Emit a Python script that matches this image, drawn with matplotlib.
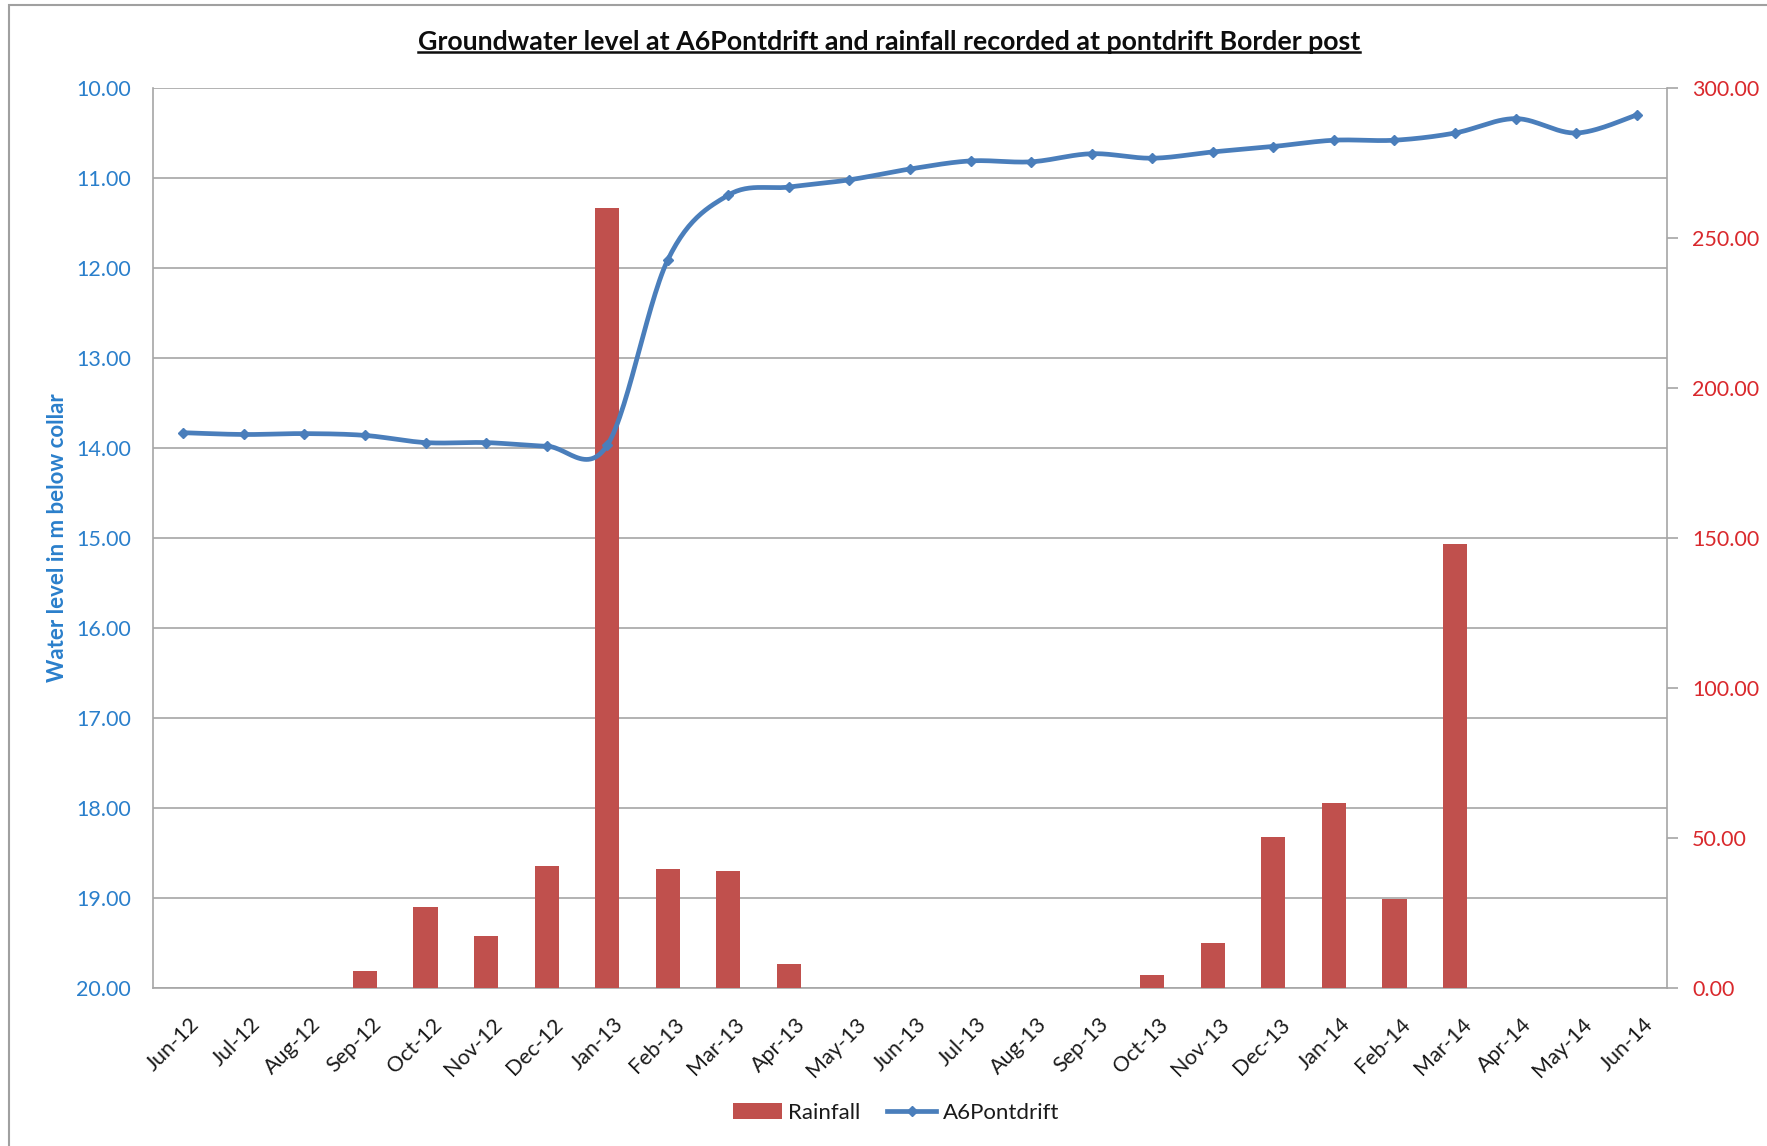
import numpy as np
import matplotlib
matplotlib.use("Agg")
import matplotlib.pyplot as plt
from matplotlib.lines import Line2D
from matplotlib.patches import Rectangle
from matplotlib.transforms import ScaledTranslation

plt.rcParams['font.family'] = ['Lato', 'DejaVu Sans']

months = ['Jun-12', 'Jul-12', 'Aug-12', 'Sep-12', 'Oct-12', 'Nov-12', 'Dec-12',
          'Jan-13', 'Feb-13', 'Mar-13', 'Apr-13', 'May-13', 'Jun-13', 'Jul-13',
          'Aug-13', 'Sep-13', 'Oct-13', 'Nov-13', 'Dec-13', 'Jan-14', 'Feb-14',
          'Mar-14', 'Apr-14', 'May-14', 'Jun-14']

# water level in m below collar
level = [13.83, 13.85, 13.84, 13.86, 13.94, 13.94, 13.98, 13.97, 11.91, 11.19,
         11.10, 11.02, 10.90, 10.81, 10.82, 10.73, 10.78, 10.71, 10.65, 10.58,
         10.58, 10.50, 10.34, 10.50, 10.30]

# monthly rainfall (mm)
rain = [0, 0, 0, 5.6, 27.0, 17.3, 40.6, 260.0, 39.8, 39.0, 7.9, 0, 0, 0, 0, 0,
        4.3, 14.9, 50.2, 61.8, 29.6, 148.0, 0, 0, 0]

level_ticks = [10, 11, 12, 13, 14, 15, 16, 17, 18, 19, 20]
rain_ticks = [0, 50, 100, 150, 200, 250, 300]

BLUE = '#4A7EBB'
RED = '#C0504D'
LBLUE = '#2A7FCB'
LRED = '#D9282C'
GRID = '#a6a6a6'
FS = 15.5


def smooth(x, y, n=30):
    # bezier smoothing through every point, like a spreadsheet "smoothed line"
    P = np.column_stack([x, y]).astype(float)
    out = []
    t = np.linspace(0, 1, n)[:, None]
    for i in range(len(P) - 1):
        p0 = P[max(i - 1, 0)]
        p1 = P[i]
        p2 = P[i + 1]
        p3 = P[min(i + 2, len(P) - 1)]
        c1 = p1 + (p2 - p0) / 6.0
        c2 = p2 - (p3 - p1) / 6.0
        seg = ((1 - t) ** 3) * p1 + 3 * ((1 - t) ** 2) * t * c1 \
            + 3 * (1 - t) * t ** 2 * c2 + t ** 3 * p2
        out.append(seg if i == 0 else seg[1:])
    out = np.vstack(out)
    return out[:, 0], out[:, 1]


x = np.arange(len(months))

fig = plt.figure(figsize=(17.67, 11.46), dpi=100)
ax = fig.add_axes([0.0866, 0.1379, 0.8568, 0.7853])

# left axis: scale + gridlines
ax.set_xlim(-0.5, len(months) - 0.5)
ax.set_ylim(20, 10)
ax.set_yticks(level_ticks)
ax.set_yticklabels(['%.2f' % v for v in level_ticks])
ax.yaxis.grid(True, color=GRID, lw=1.2)
ax.set_axisbelow(True)
ax.tick_params(axis='y', length=0, pad=16, labelsize=FS, labelcolor=LBLUE)
ax.set_ylabel('Water level in m below collar', fontsize=16, fontweight='bold',
              color=LBLUE, labelpad=6)
for s in ['top', 'right']:
    ax.spines[s].set_visible(False)
for s in ['left', 'bottom']:
    ax.spines[s].set_color(GRID)
    ax.spines[s].set_linewidth(1.2)

ax.set_xticks(x)
ax.set_xticklabels(months, rotation=45, ha='right', va='top',
                   rotation_mode='anchor', fontsize=FS, color='#1a1a1a')
ax.tick_params(axis='x', length=0, pad=19)
off = ScaledTranslation(6 / 100, 0, fig.dpi_scale_trans)
for lab in ax.get_xticklabels():
    lab.set_transform(lab.get_transform() + off)

# right axis: rainfall bars
axb = ax.twinx()
bars = axb.bar(x, rain, width=0.4, color=RED, label='Rainfall', zorder=2)
axb.set_ylim(0, 300)
axb.set_yticks(rain_ticks)
axb.set_yticklabels(['%.2f' % v for v in rain_ticks])
axb.tick_params(axis='y', length=8, width=1.2, color=GRID, pad=10,
                labelsize=FS, labelcolor=LRED)
for s in ['top', 'left', 'bottom']:
    axb.spines[s].set_visible(False)
axb.spines['right'].set_color(GRID)
axb.spines['right'].set_linewidth(1.2)

# water level line on top
axl = ax.twinx()
axl.set_ylim(20, 10)
axl.set_yticks([])
for s in axl.spines.values():
    s.set_visible(False)
sx, sy = smooth(x, level)
axl.plot(sx, sy, color=BLUE, lw=3.4, solid_capstyle='round', zorder=3)
axl.plot(x, level, ls='none', marker='D', ms=5, color=BLUE, zorder=4)

# legend
h_line = Line2D([], [], color=BLUE, lw=3.4, marker='D', ms=5)
fig.legend([bars, h_line], ['Rainfall', 'A6Pontdrift'], loc='center',
           bbox_to_anchor=(0.507, 0.029), ncol=2, frameon=False, fontsize=16,
           handlelength=2.2, handletextpad=0.3, columnspacing=1.2,
           labelcolor='#1a1a1a')

# title with underline
title = fig.text(0.503, 0.963,
                 'Groundwater level at A6Pontdrift and rainfall recorded at pontdrift Border post',
                 ha='center', va='center', fontsize=19.3, fontweight='bold',
                 color='#0d0d0d')
fig.canvas.draw()
bb = title.get_window_extent().transformed(fig.transFigure.inverted())
fig.add_artist(Line2D([bb.x0, bb.x1], [bb.y0 + 0.002, bb.y0 + 0.002],
                      transform=fig.transFigure, color='#0d0d0d', lw=1.8))

# chart area border
fig.add_artist(Rectangle((9 / 1767, -0.05), 1.5, 1.05 - 5 / 1146,
                         transform=fig.transFigure, fill=False,
                         edgecolor='#a0a0a0', lw=1.5))

fig.savefig('out.png', dpi=100)
